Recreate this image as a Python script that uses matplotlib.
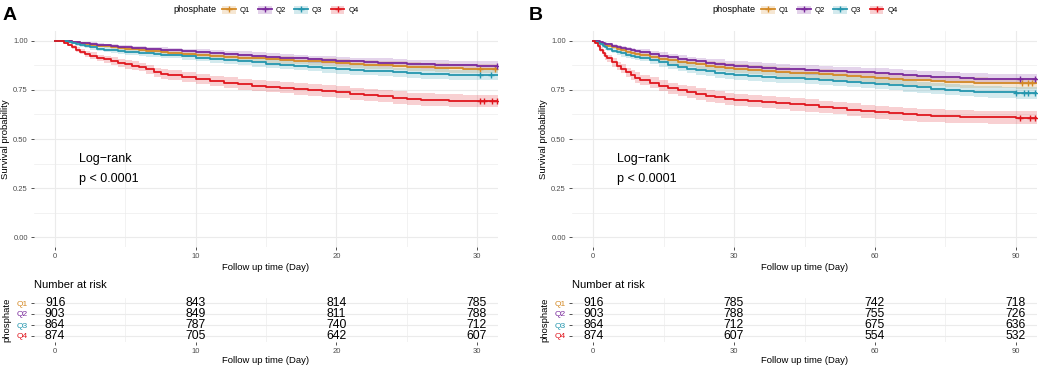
import numpy as np
import matplotlib
matplotlib.use("Agg")
import matplotlib.pyplot as plt
from matplotlib.patches import Patch
from matplotlib.lines import Line2D

plt.rcParams['font.family'] = ['Liberation Sans', 'DejaVu Sans']

groups = ["Q1", "Q2", "Q3", "Q4"]
colors = ["#D48A26", "#7A2A9C", "#2496AE", "#E0161E"]

# ---------------- Panel A (30 days) ----------------
time_a = [0, 0.3, 0.6, 0.9, 1.2, 1.5, 1.8, 2.1, 2.5, 3, 3.5, 4, 4.5, 5, 5.5, 6, 6.5, 7, 7.5, 8, 9, 10,
          11, 12, 13, 14, 15, 16, 17, 18, 19, 20, 21, 22, 23, 24, 25, 26, 27, 28, 29, 30, 31.5]
surv_a_q1 = [1.0, 1.0, 0.999, 0.997, 0.995, 0.992, 0.989, 0.985, 0.981, 0.976, 0.972, 0.968, 0.964, 0.96,
             0.957, 0.953, 0.95, 0.946, 0.943, 0.94, 0.934, 0.928, 0.924, 0.919, 0.915, 0.911, 0.907,
             0.903, 0.899, 0.895, 0.891, 0.887, 0.883, 0.879, 0.876, 0.873, 0.869, 0.866, 0.863, 0.861,
             0.859, 0.858, 0.857]
surv_a_q2 = [1.0, 1.0, 1.0, 0.998, 0.996, 0.994, 0.991, 0.988, 0.985, 0.981, 0.977, 0.974, 0.971, 0.968,
             0.965, 0.962, 0.959, 0.956, 0.953, 0.951, 0.946, 0.941, 0.937, 0.933, 0.929, 0.925, 0.92,
             0.915, 0.911, 0.906, 0.902, 0.898, 0.895, 0.892, 0.889, 0.886, 0.883, 0.881, 0.879, 0.877,
             0.875, 0.874, 0.873]
surv_a_q3 = [1.0, 1.0, 0.998, 0.994, 0.989, 0.984, 0.978, 0.972, 0.966, 0.96, 0.955, 0.951, 0.948, 0.945,
             0.942, 0.939, 0.936, 0.933, 0.93, 0.927, 0.921, 0.914, 0.908, 0.902, 0.896, 0.89, 0.884,
             0.878, 0.872, 0.867, 0.861, 0.856, 0.852, 0.848, 0.844, 0.84, 0.836, 0.833, 0.83, 0.828,
             0.826, 0.825, 0.824]
surv_a_q4 = [1.0, 0.997, 0.99, 0.98, 0.968, 0.955, 0.945, 0.934, 0.925, 0.912, 0.905, 0.897, 0.888, 0.88,
             0.874, 0.866, 0.855, 0.84, 0.832, 0.826, 0.815, 0.806, 0.797, 0.787, 0.779, 0.772, 0.766,
             0.761, 0.755, 0.75, 0.745, 0.738, 0.731, 0.724, 0.717, 0.711, 0.705, 0.701, 0.698, 0.696,
             0.695, 0.694, 0.693]
ci_a_q1 = [0, 0, 0.001, 0.002, 0.003, 0.004, 0.005, 0.006, 0.007, 0.008, 0.009, 0.01, 0.011, 0.011,
           0.012, 0.012, 0.013, 0.013, 0.014, 0.014, 0.015, 0.016, 0.016, 0.017, 0.017, 0.018, 0.018,
           0.019, 0.019, 0.02, 0.02, 0.02, 0.021, 0.021, 0.021, 0.022, 0.022, 0.022, 0.022, 0.023,
           0.023, 0.023, 0.023]
ci_a_q2 = [0, 0, 0, 0.002, 0.003, 0.004, 0.005, 0.006, 0.007, 0.008, 0.009, 0.009, 0.01, 0.011,
           0.011, 0.012, 0.012, 0.013, 0.013, 0.014, 0.014, 0.015, 0.016, 0.016, 0.017, 0.017, 0.018,
           0.018, 0.019, 0.019, 0.02, 0.02, 0.02, 0.021, 0.021, 0.021, 0.021, 0.022, 0.022, 0.022,
           0.022, 0.022, 0.022]
ci_a_q3 = [0, 0, 0.002, 0.004, 0.006, 0.008, 0.009, 0.01, 0.011, 0.012, 0.013, 0.014, 0.014, 0.015,
           0.015, 0.016, 0.016, 0.017, 0.017, 0.017, 0.018, 0.019, 0.019, 0.02, 0.02, 0.021, 0.021,
           0.022, 0.022, 0.023, 0.023, 0.023, 0.024, 0.024, 0.024, 0.024, 0.025, 0.025, 0.025, 0.025,
           0.025, 0.025, 0.025]
ci_a_q4 = [0, 0.002, 0.005, 0.008, 0.01, 0.012, 0.013, 0.015, 0.016, 0.017, 0.018, 0.019, 0.02, 0.021,
           0.021, 0.022, 0.023, 0.024, 0.024, 0.025, 0.025, 0.026, 0.026, 0.027, 0.027, 0.028, 0.028,
           0.028, 0.029, 0.029, 0.029, 0.03, 0.03, 0.03, 0.03, 0.031, 0.031, 0.031, 0.031, 0.031,
           0.031, 0.031, 0.031]
censor_a = [[30.2, 31.3], [31.4], [30.2, 31.0], [30.2, 30.5, 31.1, 31.4]]
risk_times_a = [0, 10, 20, 30]
risk_a = [[916, 843, 814, 785], [903, 849, 811, 788], [864, 787, 740, 712], [874, 705, 642, 607]]
xticks_a = [0, 10, 20, 30]

# ---------------- Panel B (90 days) ----------------
time_b = [0, 0.5, 1, 1.5, 2, 2.5, 3, 4, 5, 6, 7, 8, 9, 10, 12, 14, 16, 18, 20, 22, 24, 26, 28, 30,
          33, 36, 39, 42, 45, 48, 51, 54, 57, 60, 63, 66, 69, 72, 75, 78, 81, 84, 87, 90, 94.5]
surv_b_q1 = [1.0, 0.999, 0.995, 0.99, 0.985, 0.98, 0.976, 0.968, 0.96, 0.952, 0.945, 0.939, 0.933, 0.928,
             0.918, 0.909, 0.901, 0.893, 0.886, 0.88, 0.874, 0.868, 0.863, 0.858,
             0.852, 0.847, 0.842, 0.838, 0.834, 0.829, 0.824, 0.819, 0.814, 0.81, 0.806, 0.802, 0.798,
             0.795, 0.792, 0.789, 0.787, 0.786, 0.785, 0.784, 0.784]
surv_b_q2 = [1.0, 1.0, 0.997, 0.994, 0.99, 0.986, 0.982, 0.975, 0.968, 0.962, 0.956, 0.951, 0.946, 0.941,
             0.932, 0.924, 0.916, 0.908, 0.901, 0.895, 0.889, 0.884, 0.878, 0.873,
             0.868, 0.863, 0.859, 0.855, 0.851, 0.848, 0.845, 0.842, 0.839, 0.836, 0.832, 0.827, 0.822,
             0.818, 0.814, 0.811, 0.808, 0.806, 0.805, 0.804, 0.804]
surv_b_q3 = [1.0, 0.996, 0.99, 0.982, 0.974, 0.966, 0.959, 0.95, 0.942, 0.936, 0.93, 0.925, 0.92, 0.914,
             0.902, 0.89, 0.879, 0.868, 0.859, 0.851, 0.844, 0.837, 0.83, 0.824,
             0.82, 0.816, 0.813, 0.81, 0.806, 0.802, 0.797, 0.791, 0.786, 0.781, 0.775, 0.769, 0.763,
             0.757, 0.751, 0.746, 0.741, 0.738, 0.737, 0.736, 0.736]
surv_b_q4 = [1.0, 0.99, 0.973, 0.955, 0.938, 0.922, 0.91, 0.89, 0.872, 0.857, 0.84, 0.826, 0.813, 0.802,
             0.787, 0.772, 0.759, 0.748, 0.739, 0.73, 0.72, 0.712, 0.705, 0.698,
             0.693, 0.688, 0.683, 0.677, 0.671, 0.664, 0.657, 0.649, 0.642, 0.636, 0.631, 0.627, 0.622,
             0.619, 0.616, 0.614, 0.612, 0.611, 0.61, 0.609, 0.609]
ci_b_q1 = [0, 0.002, 0.004, 0.006, 0.007, 0.008, 0.009, 0.011, 0.012, 0.013, 0.014, 0.015, 0.016, 0.016,
           0.017, 0.018, 0.019, 0.02, 0.02, 0.021, 0.021, 0.022, 0.022, 0.023,
           0.023, 0.023, 0.024, 0.024, 0.024, 0.025, 0.025, 0.025, 0.025, 0.026, 0.026, 0.026, 0.026,
           0.026, 0.027, 0.027, 0.027, 0.027, 0.027, 0.027, 0.027]
ci_b_q2 = [0, 0, 0.002, 0.004, 0.005, 0.006, 0.007, 0.009, 0.01, 0.011, 0.012, 0.013, 0.014, 0.015,
           0.016, 0.017, 0.018, 0.019, 0.019, 0.02, 0.02, 0.021, 0.021, 0.022,
           0.022, 0.023, 0.023, 0.023, 0.024, 0.024, 0.024, 0.024, 0.025, 0.025, 0.025, 0.025, 0.026,
           0.026, 0.026, 0.026, 0.026, 0.026, 0.026, 0.026, 0.026]
ci_b_q3 = [0, 0.003, 0.006, 0.008, 0.01, 0.011, 0.012, 0.014, 0.015, 0.016, 0.017, 0.017, 0.018, 0.019,
           0.02, 0.021, 0.022, 0.022, 0.023, 0.023, 0.024, 0.024, 0.025, 0.025,
           0.025, 0.026, 0.026, 0.026, 0.026, 0.027, 0.027, 0.027, 0.027, 0.028, 0.028, 0.028, 0.028,
           0.029, 0.029, 0.029, 0.029, 0.03, 0.03, 0.03, 0.03]
ci_b_q4 = [0, 0.006, 0.011, 0.014, 0.016, 0.018, 0.019, 0.021, 0.022, 0.023, 0.024, 0.025, 0.026, 0.026,
           0.027, 0.028, 0.028, 0.029, 0.029, 0.03, 0.03, 0.03, 0.031, 0.031,
           0.031, 0.031, 0.032, 0.032, 0.032, 0.032, 0.032, 0.032, 0.033, 0.033, 0.033, 0.033, 0.033,
           0.033, 0.033, 0.033, 0.033, 0.033, 0.033, 0.033, 0.033]
censor_b = [[91.3, 92.6, 93.4], [90.9, 94.0], [90.0, 91.7, 92.6, 94.0], [90.9, 93.0, 94.0]]
risk_times_b = [0, 30, 60, 90]
risk_b = [[916, 785, 742, 718], [903, 788, 755, 726], [864, 712, 675, 636], [874, 607, 554, 532]]
xticks_b = [0, 30, 60, 90]

W, H = 1040, 368
fig = plt.figure(figsize=(W / 100, H / 100), dpi=100)

GRID = "#EBEBEB"
TICKC = "#4D4D4D"


def fr(x0, y0, x1, y1):
    return [x0 / W, 1 - y1 / H, (x1 - x0) / W, (y1 - y0) / H]


def style_axes(ax, xlim, xticks):
    ax.set_xlim(*xlim)
    ax.set_xticks(xticks)
    minors = [(xticks[i] + xticks[i + 1]) / 2 for i in range(len(xticks) - 1)]
    ax.set_xticks(minors, minor=True)
    for s in ax.spines.values():
        s.set_visible(False)
    ax.grid(True, which='major', color=GRID, lw=0.8)
    ax.grid(True, which='minor', color=GRID, lw=0.45)
    ax.set_axisbelow(True)
    ax.tick_params(which='major', length=2.5, width=0.6, color='#333333', labelsize=5.5,
                   labelcolor=TICKC, pad=2)
    ax.tick_params(which='minor', length=0)


def step_val(t, s, x):
    i = np.searchsorted(np.asarray(t), x, side='right') - 1
    return np.asarray(s)[i]


panels = [
    dict(label="A", x0=34, x1=498, xlim=(-1.5, 31.5), xticks=xticks_a, time=time_a,
         surv=[surv_a_q1, surv_a_q2, surv_a_q3, surv_a_q4], ci=[ci_a_q1, ci_a_q2, ci_a_q3, ci_a_q4],
         censor=censor_a, rt=risk_times_a, risk=risk_a, lr_x=1.7, legx=173, lettx=3),
    dict(label="B", x0=572, x1=1037, xlim=(-4.5, 94.5), xticks=xticks_b, time=time_b,
         surv=[surv_b_q1, surv_b_q2, surv_b_q3, surv_b_q4], ci=[ci_b_q1, ci_b_q2, ci_b_q3, ci_b_q4],
         censor=censor_b, rt=risk_times_b, risk=risk_b, lr_x=5.0, legx=712, lettx=529),
]

for p in panels:
    ax = fig.add_axes(fr(p["x0"], 31, p["x1"], 247))
    style_axes(ax, p["xlim"], p["xticks"])
    ax.set_ylim(-0.05, 1.05)
    ax.set_yticks([0, 0.25, 0.5, 0.75, 1.0])
    ax.set_yticklabels(["0.00", "0.25", "0.50", "0.75", "1.00"])
    ax.set_yticks([0.125, 0.375, 0.625, 0.875], minor=True)
    t = np.asarray(p["time"])
    for g in range(4):
        s = np.asarray(p["surv"][g])
        c = np.asarray(p["ci"][g])
        ax.fill_between(t, s - c, np.minimum(s + c, 1.0), step='post', color=colors[g],
                        alpha=0.2, lw=0)
    for g in range(4):
        s = np.asarray(p["surv"][g])
        ax.plot(t, s, drawstyle='steps-post', color=colors[g], lw=1.3)
        cx = np.asarray(p["censor"][g])
        cy = [step_val(t, s, v) for v in cx]
        ax.plot(cx, cy, ls='none', marker='+', color=colors[g], ms=5, mew=1.0)
    ax.text(p["lr_x"], 0.40, "Log\u2212rank", fontsize=9, ha='left', va='center', color='black')
    ax.text(p["lr_x"], 0.295, "p < 0.0001", fontsize=9, ha='left', va='center', color='black')
    ax.set_xlabel("Follow up time (Day)", fontsize=6.8, labelpad=2)
    fig.text((p["x0"] - 28) / W, 1 - 139 / H, "Survival probability", rotation=90, fontsize=6.8,
             ha='center', va='center')
    fig.text(p["lettx"] / W, 1 - 15 / H, p["label"], fontsize=14, fontweight='bold', ha='left',
             va='center')
    fig.text(p["legx"] / W, 1 - 10 / H, "phosphate", fontsize=6.6, ha='left', va='center')
    handles = [(Patch(facecolor=colors[g], alpha=0.2, lw=0),
                Line2D([], [], color=colors[g], lw=1.3, marker='+', ms=5, mew=1.0))
               for g in range(4)]
    fig.legend(handles, groups, loc='center left', bbox_to_anchor=((p["legx"] + 49) / W, 1 - 10 / H),
               ncol=4, frameon=False, fontsize=5.5, handlelength=1.8, handleheight=1.3,
               handletextpad=0.5, columnspacing=1.1, borderpad=0, borderaxespad=0)

    rx = fig.add_axes(fr(p["x0"], 297.5, p["x1"], 341.5))
    style_axes(rx, p["xlim"], p["xticks"])
    rx.set_ylim(4.5, 0.5)
    rx.set_yticks([1, 2, 3, 4])
    rx.set_yticklabels(groups)
    for lab, col in zip(rx.get_yticklabels(), colors):
        lab.set_color(col)
        lab.set_fontsize(6)
    rx.grid(False, axis='x', which='major')
    for g in range(4):
        for tt, n in zip(p["rt"], p["risk"][g]):
            rx.text(tt, g + 1, str(n), fontsize=8.8, ha='center', va='center', color='black')
    rx.set_xlabel("Follow up time (Day)", fontsize=6.8, labelpad=1)
    fig.text((p["x0"] - 27) / W, 1 - 320 / H, "phosphate", rotation=90, fontsize=6.8,
             ha='center', va='center')
    fig.text(p["x0"] / W, 1 - 285 / H, "Number at risk", fontsize=8, ha='left', va='center')

fig.savefig("out.png", dpi=100, facecolor='white')
